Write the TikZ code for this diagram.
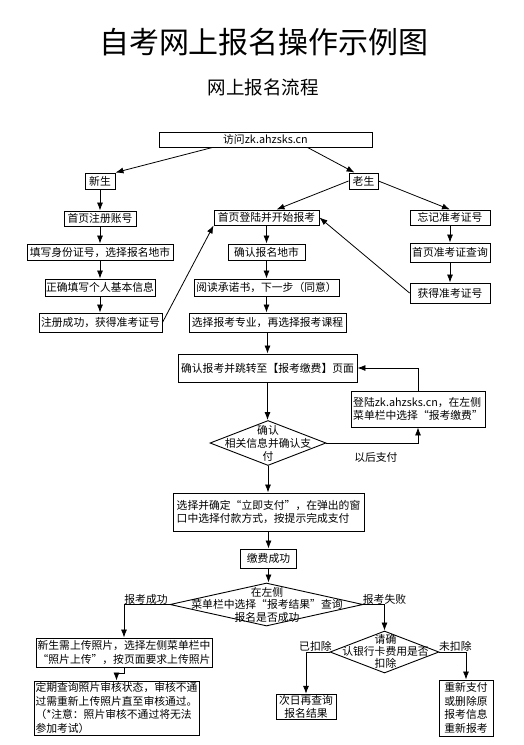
\documentclass[tikz,border=0pt]{standalone}
\usepackage{fontspec}
\setmainfont{Noto Sans CJK SC}
\usepackage{tikz}
\usetikzlibrary{calc,shapes.geometric,arrows.meta}

\tikzset{
  box/.style={draw, line width=0.9pt, inner sep=1pt, align=center,
    font=\fontsize{10.8}{13.5}\selectfont},
  choice/.style={draw, diamond, line width=0.9pt, inner sep=0pt},
  line/.style={line width=0.8pt, -{Latex[length=8pt,width=6pt]}},
  tag/.style={inner sep=0pt, align=center, font=\fontsize{10.8}{13}\selectfont},
}

\begin{document}
\begin{tikzpicture}[x=1pt,y=-1pt]
    \fill[white] (0,0) rectangle (524,745);
    \useasboundingbox (0,0) rectangle (524,745);

    % titles
    \node[font=\fontsize{30}{30}\selectfont] (title) at (264,42) {自考网上报名操作示例图};
    \node[font=\fontsize{18.5}{18.5}\selectfont] (subtitle) at (263,87) {网上报名流程};

    % upper part
    \node[box, minimum width=213pt, minimum height=15pt] (visit) at (265.5,139.5) {访问zk.ahzsks.cn};
    \node[box, minimum width=30pt, minimum height=16pt] (xinsheng) at (100,181) {新生};
    \node[box, minimum width=29pt, minimum height=16pt] (laosheng) at (363.5,181) {老生};

    \node[box, minimum width=72pt, minimum height=15pt] (reg) at (100,218.5) {首页注册账号};
    \node[box, minimum width=146pt, minimum height=16pt] (idno) at (100,252) {填写身份证号，选择报名地市};
    \node[box, minimum width=109pt, minimum height=17pt] (info) at (100,287.5) {正确填写个人基本信息};
    \node[box, minimum width=123pt, minimum height=19pt] (regok) at (100.5,322.5) {注册成功，获得准考证号};

    \node[box, minimum width=105pt, minimum height=15pt] (login) at (266.5,217.5) {首页登陆并开始报考};
    \node[box, minimum width=77pt, minimum height=16pt] (city) at (266.5,252) {确认报名地市};
    \node[box, minimum width=145pt, minimum height=17pt] (promise) at (266.5,287.5) {阅读承诺书，下一步（同意）};
    \node[box, minimum width=157pt, minimum height=19pt] (course) at (267.5,322.5) {选择报考专业，再选择报考课程};

    \node[box, minimum width=80pt, minimum height=15pt] (forget) at (450,217.5) {忘记准考证号};
    \node[box, minimum width=80pt, minimum height=19pt] (query) at (450,252.5) {首页准考证查询};
    \node[box, minimum width=80pt, minimum height=20pt] (gotno) at (450,293) {获得准考证号};

    % payment
    \node[box, minimum width=179pt, minimum height=28pt] (confirm) at (267.5,368) {确认报考并跳转至【报考缴费】页面};
    \node[box, align=left, minimum width=134pt, minimum height=36pt] (later) at (418,409)
        {登陆zk.ahzsks.cn，在左侧\\菜单栏中选择“报考缴费”};
    \node[choice, minimum width=116pt, minimum height=45pt] (dpay) at (268,443) {};
    \node[tag] (dpaytext) at (268,443) {确认\\相关信息并确认支\\付};
    \node[box, align=left, minimum width=191pt, minimum height=38pt] (paynow) at (268.5,512)
        {选择并确定“立即支付”，在弹出的窗\\口中选择付款方式，按提示完成支付};
    \node[box, minimum width=56pt, minimum height=19pt] (paid) at (268.5,558.5) {缴费成功};

    % result
    \node[choice, minimum width=193pt, minimum height=43pt] (dresult) at (266.5,604.5) {};
    \node[tag, font=\fontsize{10.8}{12.5}\selectfont] (dresulttext) at (267,604.5)
        {在左侧\\菜单栏中选择“报考结果”查询\\报名是否成功};
    \node[box, align=left, minimum width=176pt, minimum height=29pt] (photo) at (124,652.5)
        {新生需上传照片，选择左侧菜单栏中\\“照片上传”，按页面要求上传照片};
    \node[box, align=left, minimum width=165pt, minimum height=54pt] (check) at (116.5,708)
        {定期查询照片审核状态，审核不通\\过需重新上传照片直至审核通过。\\（*注意：照片审核不通过将无法\\参加考试）};
    \node[choice, minimum width=109pt, minimum height=42pt] (dfee) at (384.5,652) {};
    \node[tag, font=\fontsize{10.8}{12}\selectfont] (dfeetext) at (385.5,651.5) {请确\\认银行卡费用是否\\扣除};
    \node[box, minimum width=60pt, minimum height=24pt] (nextday) at (306,707) {次日再查询\\报名结果};
    \node[box, minimum width=54pt, minimum height=56pt] (repay) at (466,708) {重新支付\\或删除原\\报考信息\\重新报考};

    % connectors
    \draw[line] ($(visit.south west)+(54,0)$) -- (xinsheng.north east);
    \draw[line] ($(visit.south west)+(149,0)$) -- ($(laosheng.north west)+(6,0)$);
    \draw[line] (laosheng.west) -- ($(login.north)+(10,0)$);
    \draw[line] (laosheng.east) -- (forget.north);
    \foreach \a/\b in {xinsheng/reg, reg/idno, idno/info, info/regok,
        login/city, city/promise, promise/course, course/confirm,
        forget/query, query/gotno, confirm/dpay, dpay/paynow, paynow/paid, paid/dresult}
        \draw[line] (\a.south) -- (\a.south |- \b.north);
    \draw[line] (regok.east) -- (login.south west);
    \draw[line] (gotno.west) -- (login.east);
    \draw[line] (later.north) |- (confirm.east);
    \draw[line] (dpay.east) -| node[tag, pos=0.27, below=9pt] (latertag) {以后支付} (later.south);
    \draw[line] (dresult.west) -| node[tag, pos=0.5, above right=0pt] (oktag) {报考成功} (photo.north);
    \draw[line] (dresult.east) -| node[tag, pos=0.5, above=0pt] (failtag) {报考失败} (dfee.north);
    \draw[line] (photo.south) -- ++(0,6) -| (check.north);
    \draw[line] (dfee.west) -| node[tag, pos=0.3, above=0pt] (paidtag) {已扣除} (nextday.north);
    \draw[line] (dfee.east) -| node[tag, pos=0.3, above=0pt] (unpaidtag) {未扣除} (repay.north);
\end{tikzpicture}
\end{document}
